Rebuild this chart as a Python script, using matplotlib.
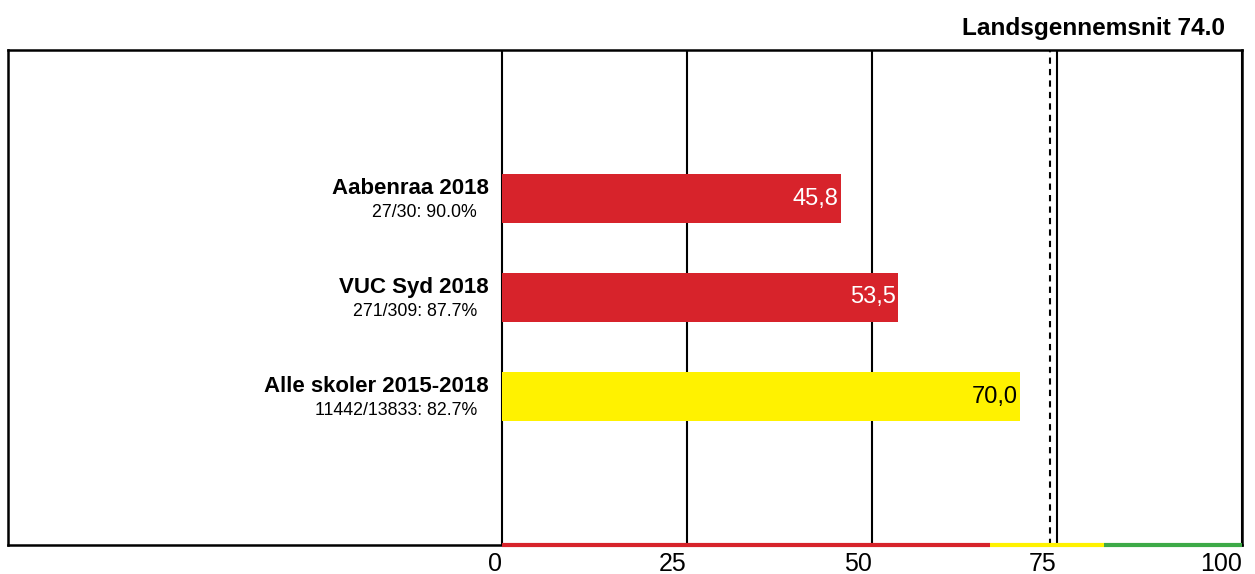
import matplotlib
matplotlib.use("Agg")
import matplotlib.pyplot as plt

plt.rcParams['font.family'] = ['Liberation Sans', 'DejaVu Sans']

labels = ["Aabenraa 2018", "VUC Syd 2018", "Alle skoler 2015-2018"]
sublabels = ["27/30: 90.0%", "271/309: 87.7%", "11442/13833: 82.7%"]
values = [45.8, 53.5, 70.0]
value_text = ["45,8", "53,5", "70,0"]
bar_colors = ["#D7232B", "#D7232B", "#FFF200"]
text_colors = ["white", "white", "black"]
national_avg = 74.0
ticks = [0, 25, 50, 75, 100]
# coloured band along the bottom: (start, end, colour)
bands = [(0, 66, "#D7232B"), (66, 81.4, "#FFF200"), (81.4, 100, "#3DAA47")]

fig = plt.figure(figsize=(12.55, 5.74), dpi=100)
# axes covers whole frame; the label area lies at negative x
left_px, right_px, top_px, bot_px = 8, 1242, 50, 545
ax = fig.add_axes([left_px / 1255, 1 - bot_px / 574,
                   (right_px - left_px) / 1255, (bot_px - top_px) / 574])
px_per_unit = (right_px - 502) / 100
ax.set_xlim(-(502 - left_px) / px_per_unit, 100)
ax.set_ylim(-0.5, 4.5)

ypos = [3, 2, 1]
for v in ticks:
    ax.axvline(v, color="black", lw=1.5, zorder=1)
ax.axvline(national_avg, color="black", lw=1.5, ls=(0, (3, 2.5)), zorder=1)

ax.barh(ypos, values, height=0.5, color=bar_colors, zorder=2)
for y, v, t, c in zip(ypos, values, value_text, text_colors):
    ax.text(v - 0.3, y, t, ha="right", va="center", fontsize=17, color=c, zorder=3)

for y, lab, sub in zip(ypos, labels, sublabels):
    ax.text(-1.8, y + 0.1, lab, ha="right", va="center", fontsize=16,
            fontweight="bold")
    ax.text(-3.4, y - 0.14, sub, ha="right", va="center", fontsize=12.8)

for a, b, c in bands:
    ax.plot([a, b], [-0.5, -0.5], color=c, lw=3, solid_capstyle="butt",
            zorder=5, clip_on=False)

for s in ax.spines.values():
    s.set_linewidth(1.8)
ax.set_yticks([])
ax.set_xticks(ticks)
ax.set_xticklabels([str(t) for t in ticks], fontsize=18, ha="right")
ax.tick_params(axis="x", length=0, pad=5)

fig.text(1225 / 1255, 1 - 28 / 574, "Landsgennemsnit %.1f" % national_avg,
         ha="right", va="center", fontsize=17.6, fontweight="bold")

fig.savefig("out.png", dpi=100)
